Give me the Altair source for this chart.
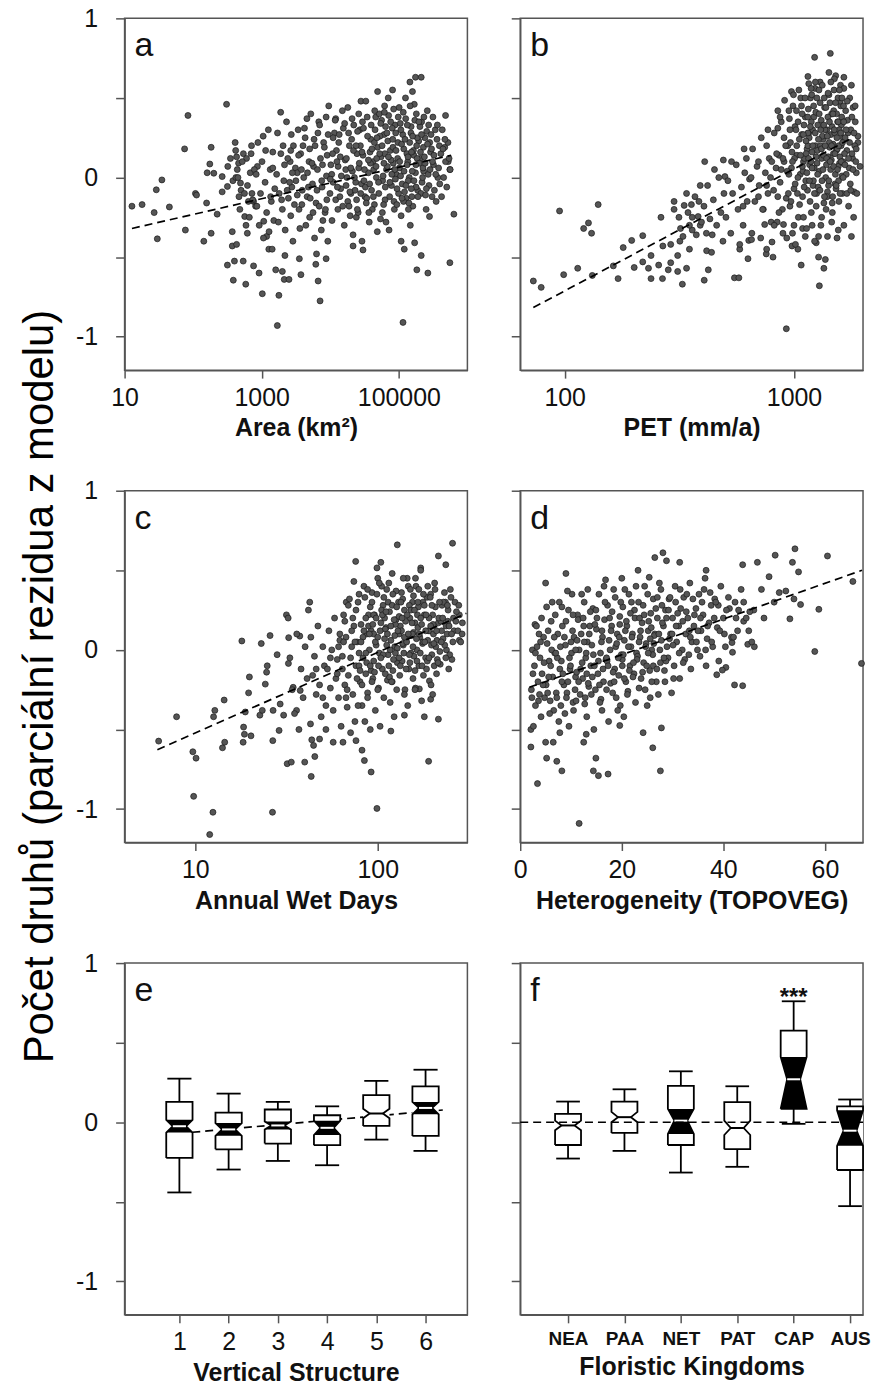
import altair as alt
import pandas as pd

FONT = "Liberation Sans"
W, H = 344, 353
Y_DOMAIN = [-1.21, 1.0]
Y_TICKS = [-1, -0.5, 0, 0.5, 1]
Y_TITLE = "Počet druhů (parciální rezidua z modelu)"

# ---------------- panel a: Area (km²) ----------------
area_pts = [
 (12.8,-0.18),(18,-0.17),(27,-0.22),(29,-0.077),(35,-0.015),(30,-0.385),(45,-0.185),(75,0.18),(84,0.39),(77,-0.33),
 (108,-0.10),(112,-0.11),(143,-0.40),(157,-0.16),(160,0.03),(183,0.19),(175,0.085),(183,-0.35),(224,-0.23),(200,0.027),
 (265,0.006),(307,0.46),(265,-0.09),(316,-0.056),(320,0.07),(316,-0.55),(372,-0.34),(372,-0.43),(400,-0.525),(385,-0.645),
 (417,0.17),(430,0.13),(440,0.05),(466,-0.12),(490,-0.035),(537,-0.525),(565,-0.245),(585,-0.67),(617,-0.35),(710,0.2),
 (760,-0.15),(760,-0.555),(815,-0.18),(865,0.07),(915,-0.6),(1020,-0.73),(1050,0.26),(1070,-0.275),(1140,0.17),(1180,-0.37),
 (1270,-0.45),(1690,-0.93),(1780,-0.74),(1890,0.41),(1600,-0.58),(2000,-0.59),(2130,-0.64),(2180,-0.49),(2500,-0.64),(2650,0.17),
 (3540,-0.51),(3730,-0.61),(4560,0.37),(6650,-0.65),(7100,-0.775),(6150,-0.545),(6300,-0.48),(8700,-0.51),(8700,0.38),(12000,0.37),
 (18000,0.44),(28000,0.48),(21500,-0.43),(29000,-0.40),(30000,-0.455),(49000,0.54),(81000,0.55),(62000,0.45),(145000,0.6),(175000,0.63),
 (212000,0.63),(158000,0.54),(115000,-0.91),(108000,-0.40),(170000,-0.41),(183000,-0.58),(212000,-0.49),(265000,-0.60),(280000,-0.245),(480000,0.39),
 (467000,0.19),(525000,0.1),(555000,0.05),(635000,-0.23),(555000,-0.535),(314000,0.38),(120000,-0.45),
 (350,0.12),(380,-0.02),(420,0.0),(460,0.09),(500,-0.08),(540,0.15),(600,0.12),(640,-0.15),(680,0.03),(720,-0.1),
 (410,0.22),(700,0.15),(520,0.1),(780,0.05),(450,0.0),(620,-0.05),(560,-0.1),(740,-0.14),(480,-0.2),(660,-0.25),(590,-0.3),(430,-0.42),
 (1250,0.3),(880,0.22),(1450,0.16),(1010,0.1),(1330,0.05),(830,0.02),(1120,-0.03),(1550,-0.07),(960,-0.1),(1380,-0.15),(850,-0.18),
 (1180,-0.22),(1500,-0.27),(920,-0.3),(1280,-0.34),(1060,-0.38),(1420,-0.45),
 (2300,0.35),(1700,0.28),(2900,0.2),(1900,0.15),(2600,0.1),(3100,0.06),(1650,0.02),(2100,-0.02),(2750,-0.06),(1800,-0.1),(2450,-0.13),
 (3000,-0.17),(2000,-0.2),(2650,-0.24),(1750,-0.28),(2200,-0.33),(2850,-0.4),
 (5200,0.4),(3400,0.3),(4300,0.25),(6000,0.2),(3700,0.15),(4900,0.1),(5700,0.07),(3300,0.03),(4100,0.0),(5500,-0.04),(3900,-0.08),
 (4600,-0.12),(6200,-0.16),(3500,-0.2),(5000,-0.25),(4400,-0.3),(5900,-0.38),
 (9500,0.45),(6800,0.35),(11500,0.28),(8000,0.22),(12300,0.17),(7200,0.12),(10200,0.08),(6500,0.05),(8800,0.01),(11000,-0.03),
 (7600,-0.06),(9900,-0.1),(12000,-0.14),(6900,-0.18),(8400,-0.22),(10600,-0.27),(7400,-0.33),(9200,-0.4),
 (15000,0.42),(22000,0.33),(13500,0.27),(19000,0.2),(24500,0.15),(16500,0.11),(13000,0.07),(21000,0.04),(17500,0.0),(23500,-0.03),
 (14200,-0.07),(20000,-0.1),(18000,-0.15),(12900,-0.2),(24000,-0.25),(16000,-0.3),(21500,-0.36),
 (33000,0.48),(46000,0.38),(27000,0.3),(39000,0.24),(49000,0.19),(30000,0.14),(42000,0.1),(26000,0.06),(36000,0.03),(47000,0.0),
 (28500,-0.04),(40000,-0.08),(32000,-0.12),(44000,-0.17),(25500,-0.22),(37000,-0.28),(48500,-0.34),
 (70000,0.5),(52000,0.4),(88000,0.33),(61000,0.27),(97000,0.22),(75000,0.17),(55000,0.13),(83000,0.09),(66000,0.05),(92000,0.02),
 (58000,-0.02),(78000,-0.05),(99000,-0.1),(63000,-0.14),(86000,-0.2),(54000,-0.26),(72000,-0.33),
 (125000,0.5),(180000,0.4),(105000,0.34),(150000,0.28),(195000,0.23),(118000,0.18),(165000,0.14),(135000,0.1),(102000,0.06),
 (175000,0.03),(142000,0.0),(112000,-0.04),(188000,-0.08),(128000,-0.13),(160000,-0.18),(108000,-0.24),(147000,-0.3),
 (260000,0.42),(215000,0.35),(340000,0.3),(240000,0.25),(390000,0.2),(290000,0.16),(205000,0.12),(320000,0.08),(230000,0.04),
 (370000,0.0),(275000,-0.05),(210000,-0.1),(350000,-0.15),(250000,-0.2),
 (430000,0.3),(520000,0.22),(410000,0.15),(480000,0.1),(560000,0.05),(450000,0.0),(500000,-0.06),(420000,-0.12),
 (8200,0.19),(10500,0.02),(14000,0.13),(17000,-0.05),(20500,0.24),(26500,0.09),(31000,-0.02),(38000,0.16),(43000,0.05),(57000,0.2),
 (68000,0.07),(80000,0.31),(94000,-0.07),(110000,0.21),(132000,0.08),(155000,-0.12),(185000,0.12),(225000,0.06),(300000,0.18),
 (5600,-0.22),(3800,0.05),(2400,0.12),(1350,-0.12),(7800,-0.27),(19500,-0.24),(34000,-0.13),(60000,-0.17),(138000,-0.2),(245000,-0.11),
 (5000,0.18),(6600,0.28),(7500,-0.02),(9000,0.14),(11000,0.25),(13800,-0.12),(15500,0.31),(16800,0.05),(18800,-0.18),(21800,0.17),
 (23000,-0.08),(25000,0.29),(27500,0.2),(29500,0.35),(32500,-0.06),(35000,0.26),(38500,0.09),(41000,-0.2),(45000,0.3),(47500,0.12),
 (51000,-0.1),(53000,0.26),(56000,0.36),(59000,0.01),(62500,0.15),(65000,-0.28),(69000,0.23),(71000,0.39),(74000,-0.03),(77000,0.11),
 (82000,0.19),(85000,-0.15),(90000,0.28),(96000,0.12),(101000,0.44),(106000,0.01),(114000,0.27),(121000,-0.09),(126000,0.37),(131000,0.15),
 (137000,-0.02),(144000,0.22),(151000,0.32),(157000,0.04),(163000,0.17),(168000,0.46),(178000,-0.06),(186000,0.25),(198000,0.09),(203000,0.32),
 (218000,-0.03),(228000,0.19),(236000,0.13),(255000,0.29),(268000,0.02),(282000,0.22),(310000,0.1),(330000,-0.08),(360000,0.24),(380000,0.06),
 (3300,-0.11),(4000,0.2),(4800,-0.06),(5400,0.09),(2800,0.03),(3600,-0.32),(2150,0.08),(1450,0.06),(1950,-0.14),(2550,-0.03),
 (8900,-0.14),(12500,0.1),(19900,0.06),(24200,-0.14),(36500,-0.22),(44000,0.22),(64000,0.32),(87000,0.05),(117000,-0.15),(152000,-0.07),
]
area_core = [
 (2050,0.2),(2350,-0.08),(2700,0.27),(3150,-0.02),(3450,0.14),(3850,-0.17),(4200,0.31),(4650,0.03),(5100,-0.13),(5800,0.24),
 (6400,-0.08),(7000,0.33),(7700,0.08),(8500,-0.2),(9300,0.27),(10000,-0.01),(10800,0.15),(11800,0.36),(12700,-0.06),(13300,0.22),
 (14500,0.01),(15200,-0.18),(16200,0.34),(17200,0.12),(18500,0.28),(19300,-0.09),(20800,0.37),(22500,0.0),(23800,0.2),(24800,-0.2),
 (26000,0.4),(27800,-0.1),(29000,0.16),(30500,0.31),(31500,0.05),(33500,-0.16),(34500,0.38),(36000,0.11),(37500,-0.04),(39500,0.33),
 (40500,0.18),(42500,-0.12),(44500,0.42),(46500,0.07),(48000,0.25),(50500,-0.03),(52500,0.15),(54500,0.34),(57500,-0.22),(60500,0.09),
 (61500,0.41),(63500,-0.06),(67000,0.28),(70500,0.13),(73500,-0.12),(76000,0.35),(79000,0.02),(81500,0.24),(84000,0.43),(89000,-0.01),
 (91000,0.17),(93500,-0.17),(98000,0.38),(103000,0.1),(107000,0.3),(111000,-0.13),(116000,0.41),(119000,0.04),(123000,0.24),(127000,-0.05),
 (133000,0.33),(136000,0.13),(140000,-0.16),(146000,0.45),(153000,0.16),(159000,0.26),(166000,-0.02),(171000,0.36),(177000,0.08),(182000,0.2),
 (190000,-0.12),(196000,0.35),(207000,0.16),(214000,0.27),(222000,0.0),(232000,0.38),(242000,0.09),(252000,-0.07),(262000,0.21),(272000,0.33),
 (285000,0.05),(295000,0.27),(305000,-0.12),(325000,0.14),(345000,0.02),(365000,0.33),(395000,-0.04),(440000,0.18),(470000,0.24),(540000,0.12),
]
area_trend_x = [12.8, 580000]
area_trend_y = [-0.32, 0.14]

# ---------------- panel b: PET (mm/a) ----------------
pet_pts = [
 (73,-0.65),(79,-0.69),(95,-0.21),(99,-0.61),(114,-0.57),(121,-0.32),(127,-0.285),(131,-0.35),(140,-0.17),(132,-0.615),
 (163,-0.555),(171,-0.635),(180,-0.44),(196,-0.395),(201,-0.565),(219,-0.365),(219,-0.53),(232,-0.57),(238,-0.635),(238,-0.49),
 (257,-0.55),(263,-0.25),(267,-0.635),(268,-0.43),(283,-0.58),(290,-0.535),(311,-0.59),(311,-0.49),(318,-0.4),(326,-0.67),
 (328,-0.37),(340,-0.57),(350,-0.45),(332,-0.175),(357,-0.17),(360,-0.33),(382,-0.245),(406,-0.645),(408,0.1),(416,-0.46),
 (423,-0.58),(437,-0.47),(440,-0.36),(492,0.11),(534,0.1),(500,0.006),(550,-0.63),(575,-0.63),(580,-0.45),(606,0.18),
 (630,-0.51),(635,-0.395),(653,-0.39),(716,-0.38),(745,-0.295),(757,-0.48),(802,-0.405),(770,0.3),(850,0.31),(895,-0.35),
 (900,-0.295),(926,-0.95),(910,0.485),(975,0.54),(950,0.42),(980,-0.43),(985,-0.35),(1040,-0.45),(1090,-0.32),(1120,-0.37),
 (1150,0.635),(1160,0.59),(1230,0.755),(1235,0.56),(1250,-0.41),(1280,-0.37),(1290,-0.68),(1350,-0.57),(1370,-0.515),(1400,-0.37),
 (1440,0.78),(1420,0.66),(1520,0.64),(1650,0.63),(1780,0.58),(1780,-0.37),(1830,-0.09),(1900,0.26),(1870,0.03),
 (300,-0.15),(315,-0.25),(345,-0.22),(370,-0.12),(390,-0.3),
 (340,-0.1),(385,-0.15),(300,-0.2),(360,-0.25),(395,-0.28),(320,-0.32),(375,-0.36),(290,-0.42),(390,-0.05),(350,-0.3),
 (470,0.0),(420,-0.05),(495,-0.1),(445,-0.14),(405,-0.18),(480,-0.22),(430,-0.26),(460,-0.3),(415,-0.35),(490,-0.4),(450,0.05),
 (560,0.08),(610,0.03),(515,-0.02),(590,-0.06),(540,-0.1),(625,-0.15),(570,-0.2),(505,-0.25),(600,-0.3),(530,-0.35),(580,-0.42),(620,0.12),
 (720,0.25),(660,0.18),(780,0.12),(690,0.07),(750,0.03),(640,-0.01),(705,-0.05),(770,-0.1),(675,-0.15),(735,-0.2),(795,-0.28),(655,-0.35),(760,-0.45),
 (880,0.35),(820,0.28),(940,0.2),(860,0.14),(905,0.1),(835,0.06),(950,0.02),(870,-0.03),(815,-0.08),(925,-0.13),(890,-0.2),(845,-0.28),(930,-0.38),(810,-0.5),
 (1050,0.55),(990,0.45),(1120,0.38),(1010,0.32),(1080,0.27),(965,0.22),(1140,0.18),(1030,0.14),(1100,0.1),(975,0.06),(1065,0.02),
 (1125,-0.02),(1000,-0.07),(1090,-0.12),(960,-0.18),(1045,-0.25),(1135,-0.32),(1015,-0.42),(1075,-0.55),
 (1300,0.6),(1180,0.5),(1360,0.44),(1220,0.38),(1270,0.33),(1160,0.28),(1340,0.24),(1240,0.2),(1200,0.16),(1320,0.12),(1170,0.08),
 (1290,0.04),(1375,0.0),(1210,-0.05),(1255,-0.1),(1350,-0.16),(1190,-0.22),(1310,-0.3),(1230,-0.4),(1280,-0.5),
 (1500,0.62),(1420,0.52),(1600,0.45),(1460,0.4),(1550,0.35),(1390,0.3),(1640,0.25),(1480,0.21),(1530,0.17),(1410,0.13),(1580,0.09),
 (1445,0.05),(1620,0.01),(1510,-0.04),(1400,-0.09),(1570,-0.15),(1470,-0.22),(1650,-0.3),(1540,-0.38),
 (1750,0.5),(1680,0.42),(1850,0.35),(1720,0.28),(1900,0.22),(1700,0.17),(1800,0.12),(1940,0.07),(1690,0.02),(1760,-0.04),
 (1880,-0.1),(1730,-0.18),(1820,-0.25),
 (1020,0.3),(1110,0.12),(1190,0.35),(1260,0.09),(1330,0.26),(1430,0.19),(1490,0.42),(1560,0.07),(1610,0.33),(1040,0.0),
 (1150,0.2),(1215,-0.02),(1395,-0.12),(1525,-0.07),(1660,0.15),(980,0.16),(1085,0.4),(1300,0.47),(1450,0.27),(1590,0.48),
 (1005,0.12),(1025,0.42),(1035,-0.1),(1055,0.24),(1070,0.5),(1095,0.04),(1105,0.33),(1130,0.15),(1145,-0.08),(1155,0.43),
 (1165,0.25),(1175,-0.15),(1185,0.1),(1195,0.52),(1205,0.3),(1225,0.06),(1245,0.41),(1265,0.17),(1275,-0.06),(1285,0.55),
 (1305,0.2),(1315,0.36),(1325,-0.02),(1345,0.14),(1355,0.5),(1365,0.3),(1385,0.08),(1405,0.38),(1415,-0.05),(1425,0.22),
 (1435,0.47),(1455,0.11),(1465,0.32),(1475,-0.12),(1485,0.15),(1495,0.55),(1505,0.28),(1515,0.02),(1535,0.4),(1545,0.18),
 (1555,0.5),(1565,-0.02),(1575,0.3),(1585,0.13),(1595,0.58),(1605,0.2),(1615,0.38),(1625,-0.1),(1635,0.1),(1645,0.45),
 (1670,0.25),(1710,0.36),(1740,0.06),(1770,0.3),(1790,0.15),(1810,0.44),(1840,0.2),(1860,0.1),(1700,-0.1),(1650,0.56),
 (880,0.05),(920,0.2),(945,-0.1),(960,0.3),(850,-0.12),(800,0.1),(760,-0.05),(700,-0.12),(650,0.0),(600,-0.18),
 (1000,-0.3),(1100,-0.25),(1200,-0.3),(1320,-0.25),(1460,-0.28),(1560,-0.33),(1250,-0.18),(1380,-0.2),(1150,0.28),(1240,0.6),
]
pet_core = [
 (905,0.25),(935,0.04),(955,0.37),(970,-0.15),(985,0.1),(995,0.52),(1012,-0.04),(1028,0.2),(1042,0.35),(1058,-0.17),
 (1068,0.14),(1078,0.45),(1088,0.07),(1098,0.27),(1108,-0.06),(1118,0.5),(1128,0.23),(1138,0.03),(1148,0.38),(1158,0.12),
 (1168,-0.02),(1178,0.32),(1188,0.56),(1198,0.06),(1208,0.2),(1218,0.45),(1228,-0.1),(1238,0.28),(1248,0.13),(1258,0.5),
 (1268,0.02),(1278,0.24),(1288,0.4),(1298,-0.08),(1308,0.3),(1318,0.18),(1328,0.58),(1338,0.05),(1348,0.33),(1358,-0.12),
 (1368,0.2),(1378,0.44),(1388,0.12),(1398,0.26),(1408,0.53),(1418,-0.02),(1428,0.35),(1438,0.1),(1448,0.6),(1458,0.2),
 (1468,-0.16),(1478,0.4),(1488,0.07),(1498,0.3),(1508,0.15),(1518,0.47),(1528,-0.05),(1538,0.25),(1548,0.05),(1558,0.35),
 (1568,0.2),(1578,0.55),(1588,-0.1),(1598,0.28),(1608,0.1),(1618,0.5),(1628,0.22),(1638,0.0),(1648,0.35),(1668,0.08),
 (1688,0.3),(1708,0.48),(1728,0.12),(1748,0.22),(1768,-0.08),(1788,0.38),(1808,0.05),(1828,0.28),(1848,0.45),(1868,0.18),
 (700,0.1),(730,-0.2),(760,0.2),(790,0.0),(820,-0.3),(840,0.15),(860,-0.22),(870,0.38),(895,0.12),(850,0.42),
]
pet_trend_x = [73, 1800]
pet_trend_y = [-0.817, 0.25]

# ---------------- panel c: Annual Wet Days ----------------
wet_pts = [
 (6.3,-0.573),(7.9,-0.42),(9.7,-0.64),(10.1,-0.68),(9.8,-0.92),(12.5,-1.02),(12.0,-1.16),(12.6,-0.42),(12.8,-0.38),(14.1,-0.615),
 (14.5,-0.58),(14.4,-0.315),(18,0.056),(18.4,-0.485),(18.3,-0.58),(18.6,-0.53),(19.6,-0.27),(19.8,-0.17),(18.8,-0.39),(20.2,-0.54),
 (23,0.04),(25.7,0.09),(26.5,-1.02),(26.6,-0.57),(24.6,-0.14),(24.8,-0.1),(24.2,-0.215),(22.6,-0.41),(23.3,-0.38),(26.7,-0.38),
 (28.1,-0.03),(28.8,-0.506),(29.2,-0.34),(30.5,-0.41),(31.6,0.22),(32.3,0.2),(31.9,-0.715),(33.6,-0.705),(32.5,0.077),(32.4,-0.085),
 (34.4,-0.235),(35.9,-0.38),(37.4,0.087),(37.6,-0.255),(39.8,-0.705),(41.7,0.25),(42.4,0.3),(43.2,-0.795),(45.2,-0.67),(43.5,-0.565),
 (42.8,-0.465),(48,-0.56),(52,-0.5),(57,-0.58),(64.5,-0.58),(67.2,0.3),(75.7,0.556),(74,0.43),(76,-0.57),(82,-0.63),
 (84.5,-0.695),(92,-0.767),(99,-0.996),(99,0.515),(104,0.55),(128,0.66),(172,0.515),(190,-0.7),(215,0.59),(236,0.535),
 (257,0.67),(215,-0.435),(291,0.17),(280,0.22),(118,-0.51),(140,-0.41),(169,-0.245),(180,-0.42),(195,-0.31),(192,-0.195),
 (36,0.1),(40,0.02),(33,-0.05),(38,-0.12),(41,-0.18),(34,-0.25),(39,-0.3),(35,-0.4),(37,-0.5),
 (47,0.15),(43,0.08),(50,0.02),(45,-0.04),(51,-0.1),(44,-0.16),(48,-0.22),(46,-0.28),(52,-0.35),(49,-0.42),(44.5,-0.6),
 (58,0.2),(54,0.12),(62,0.06),(56,0.0),(60,-0.06),(53,-0.12),(59,-0.18),(55,-0.24),(61,-0.3),(57,-0.38),(63,-0.48),
 (70,0.32),(65,0.22),(74,0.15),(67,0.08),(72,0.02),(64,-0.04),(76,-0.1),(69,-0.16),(66,-0.22),(73,-0.28),(68,-0.36),(75,-0.45),(71,-0.52),
 (84,0.4),(78,0.3),(89,0.22),(81,0.16),(87,0.1),(77,0.05),(90,0.0),(83,-0.05),(79,-0.1),(86,-0.15),(80,-0.2),(88,-0.27),(82,-0.35),(85,-0.45),(91,-0.5),
 (100,0.45),(93,0.36),(107,0.28),(96,0.22),(104,0.17),(92,0.12),(109,0.07),(98,0.03),(102,-0.02),(95,-0.07),(106,-0.12),(94,-0.18),
 (101,-0.24),(108,-0.3),(97,-0.38),(103,-0.48),
 (120,0.48),(112,0.38),(130,0.3),(116,0.24),(126,0.19),(111,0.14),(131,0.1),(118,0.06),(124,0.02),(114,-0.03),(128,-0.08),(121,-0.13),
 (113,-0.19),(127,-0.25),(117,-0.33),(123,-0.42),
 (145,0.45),(135,0.36),(155,0.3),(140,0.25),(150,0.2),(133,0.15),(157,0.11),(143,0.07),(138,0.03),(152,-0.02),(136,-0.07),(148,-0.12),
 (156,-0.18),(141,-0.25),(146,-0.35),
 (172,0.5),(162,0.4),(186,0.33),(167,0.27),(180,0.22),(160,0.17),(189,0.12),(170,0.08),(176,0.04),(164,0.0),(183,-0.05),(168,-0.1),
 (178,-0.16),(161,-0.24),(174,-0.32),
 (205,0.42),(195,0.35),(225,0.28),(200,0.22),(215,0.17),(192,0.12),(228,0.07),(208,0.02),(198,-0.03),(220,-0.09),(210,-0.15),(196,-0.22),
 (250,0.38),(235,0.3),(270,0.24),(242,0.18),(262,0.12),(280,0.06),(238,0.0),(255,-0.06),(245,-0.12),
 (86,0.2),(95,0.1),(105,0.25),(115,-0.1),(125,0.16),(137,0.04),(149,0.28),(158,-0.04),(166,0.14),(177,0.3),(188,0.06),
 (202,0.1),(212,-0.06),(222,0.18),(79,-0.02),(92,-0.13),(110,0.13),(132,-0.16),(153,0.09),(185,-0.12),(240,0.1),(260,0.2),
 (72,0.12),(76,0.25),(80,-0.13),(83,0.08),(85,0.33),(87,-0.08),(89,0.15),(91,0.27),(93,-0.2),(95,0.22),
 (97,0.05),(99,0.35),(101,-0.1),(103,0.12),(105,0.4),(107,-0.03),(109,0.2),(112,0.03),(114,0.3),(116,-0.17),
 (118,0.15),(120,0.28),(122,-0.06),(124,0.09),(126,0.37),(128,0.01),(131,0.21),(133,-0.1),(135,0.12),(137,0.32),
 (139,-0.02),(142,0.18),(144,0.05),(147,0.4),(150,-0.08),(152,0.25),(155,0.1),(157,0.34),(160,-0.13),(163,0.07),
 (165,0.22),(168,0.38),(171,-0.02),(174,0.16),(177,0.05),(180,0.28),(183,0.12),(187,-0.07),(191,0.2),(194,0.33),
 (197,0.03),(201,0.16),(204,-0.1),(207,0.27),(211,0.06),(216,0.2),(219,-0.01),(224,0.12),(229,0.3),(233,0.03),
 (237,0.15),(243,0.25),(248,-0.03),(254,0.1),(265,0.3),(275,0.12),(285,0.05),(60,-0.15),(65,0.05),(68,-0.25),
 (55,-0.05),(62,0.1),(50,-0.3),(46,-0.12),(88,-0.3),(100,-0.25),(120,-0.2),(140,-0.28),(160,-0.25),(200,-0.28),
]
wet_core = [
 (61,0.02),(64,-0.12),(66,0.18),(69,0.28),(71,-0.05),(73,0.2),(75,0.05),(77,-0.18),(79,0.35),(81,0.05),
 (82,-0.22),(84,0.12),(86,-0.02),(88,0.38),(90,0.1),(91,-0.1),(93,0.3),(94,0.16),(96,-0.14),(98,0.2),
 (100,0.08),(102,0.42),(104,-0.05),(106,0.22),(108,0.33),(110,-0.15),(111,0.24),(113,0.1),(115,0.42),(117,0.0),
 (119,-0.2),(121,0.35),(123,0.19),(125,-0.02),(127,0.27),(129,0.12),(131,-0.05),(134,0.3),(136,0.2),(138,0.45),
 (140,0.08),(143,-0.12),(145,0.22),(147,0.1),(149,-0.03),(151,0.38),(154,0.17),(156,0.02),(159,0.25),(161,0.45),
 (164,-0.07),(166,0.3),(169,0.1),(172,0.2),(175,-0.1),(178,0.35),(181,0.05),(184,0.22),(188,0.4),(191,-0.05),
 (195,0.15),(198,0.28),(203,0.04),(206,0.38),(210,0.12),(214,-0.08),(218,0.3),(223,0.05),(227,0.2),(232,0.36),
 (236,-0.05),(241,0.28),(246,0.15),(252,0.33),(258,0.05),(268,0.18),(278,0.28),(290,0.1),(67,-0.3),(78,-0.35),
]
wet_trend_x = [6.2, 306]
wet_trend_y = [-0.627, 0.23]

# ---------------- panel d: Heterogeneity (TOPOVEG) ----------------
het_pts = [
 (67.2,-0.085),(60.5,0.59),(54.1,0.635),(50.2,0.595),(46.7,0.55),(43.8,0.535),(49,0.46),(53.6,0.55),(54.8,0.49),(55.2,0.285),
 (65.5,0.43),(58.8,0.255),(58,-0.01),(53.1,0.195),(52.3,0.37),(51,0.36),(53.9,0.32),(48,0.2),(46.1,0.02),(44.8,0.035),
 (42.2,-0.22),(43.8,-0.225),(41.8,-0.015),(40.5,-0.11),(38.7,-0.156),(39.8,-0.127),(39.1,-0.07),(41.7,0.046),(28.1,0.61),(28.8,0.56),
 (26.5,0.58),(25.4,0.456),(31.4,0.55),(36.6,0.5),(5,0.42),(9,0.48),(8.2,0.27),(2.9,0.16),(3.4,-0.84),(11.6,-1.09),
 (2.1,-0.61),(2.1,-0.5),(5,-0.58),(5.2,-0.68),(7.2,-0.7),(8.2,-0.76),(6.5,-0.58),(14.4,-0.76),(15.4,-0.79),(17.3,-0.78),
 (14.9,-0.68),(26.1,-0.615),(27.6,-0.76),(27.8,-0.49),(24.2,-0.52),(19.6,-0.475),(12.5,-0.58),(13,-0.53),(7.8,-0.52),(3.6,-0.32),(2.3,-0.3),
 (44,0.3),(46,0.25),(47.5,0.38),(50,0.3),(45,0.12),
 (3.2,0.15),(4.6,0.08),(2.4,0.0),(3.9,-0.05),(2.8,-0.1),(4.3,-0.15),(3.5,-0.2),(2.2,-0.25),(4.8,-0.3),(3.0,-0.35),(4.1,-0.42),(2.6,-0.48),
 (6.1,0.18),(7.4,0.1),(5.3,0.04),(6.8,-0.02),(5.7,-0.07),(7.8,-0.12),(6.4,-0.17),(5.1,-0.22),(7.1,-0.27),(5.9,-0.32),(6.6,-0.38),(7.6,-0.45),
 (9.5,0.25),(8.3,0.15),(10.6,0.08),(8.9,0.03),(10.1,-0.02),(8.1,-0.07),(9.8,-0.12),(10.9,-0.17),(8.6,-0.22),(9.2,-0.27),(10.4,-0.33),(8.8,-0.4),(9.6,-0.48),
 (12.6,0.3),(11.3,0.22),(13.7,0.15),(12.0,0.1),(13.2,0.05),(11.6,0.0),(12.9,-0.05),(13.9,-0.1),(11.1,-0.14),(12.3,-0.18),(13.5,-0.23),
 (11.8,-0.28),(12.7,-0.34),(13.1,-0.42),
 (15.5,0.35),(14.3,0.26),(16.6,0.19),(15.0,0.13),(16.2,0.08),(14.1,0.03),(15.8,-0.02),(16.9,-0.06),(14.6,-0.1),(15.3,-0.15),(16.4,-0.2),
 (14.8,-0.25),(15.9,-0.31),(16.1,-0.38),(14.5,-0.5),
 (18.4,0.38),(17.2,0.28),(19.6,0.21),(18.0,0.15),(19.1,0.1),(17.5,0.06),(18.8,0.02),(19.9,-0.03),(17.1,-0.07),(18.6,-0.12),(19.4,-0.16),
 (17.8,-0.21),(18.2,-0.27),(19.7,-0.35),(17.4,-0.45),
 (21.4,0.35),(20.2,0.27),(22.6,0.2),(21.0,0.15),(22.1,0.1),(20.5,0.06),(21.8,0.02),(22.9,-0.02),(20.1,-0.06),(21.6,-0.1),(22.4,-0.15),
 (20.8,-0.2),(21.2,-0.26),(22.7,-0.33),(20.4,-0.42),
 (24.5,0.4),(23.3,0.3),(25.7,0.23),(24.0,0.17),(25.2,0.12),(23.6,0.08),(24.8,0.04),(25.9,0.0),(23.1,-0.04),(24.3,-0.08),(25.5,-0.13),
 (23.8,-0.18),(24.6,-0.25),(25.0,-0.35),
 (27.4,0.42),(26.2,0.32),(28.6,0.25),(27.0,0.2),(28.2,0.15),(26.5,0.1),(27.8,0.06),(28.9,0.02),(26.1,-0.03),(27.6,-0.08),(28.4,-0.13),
 (26.8,-0.2),(27.2,-0.28),
 (30.5,0.4),(29.3,0.32),(31.6,0.26),(30.0,0.2),(31.2,0.15),(29.6,0.1),(30.8,0.05),(31.9,0.0),(29.1,-0.05),(30.3,-0.1),(31.4,-0.18),(29.8,-0.27),
 (33.4,0.42),(32.2,0.33),(34.6,0.26),(33.0,0.2),(34.2,0.15),(32.6,0.1),(33.8,0.05),(34.9,0.0),(32.4,-0.06),(33.6,-0.12),
 (36.4,0.45),(35.2,0.35),(37.6,0.28),(36.0,0.22),(37.2,0.17),(35.6,0.12),(36.8,0.07),(37.9,0.02),(35.4,-0.04),(36.6,-0.1),
 (39.5,0.4),(38.3,0.32),(41.2,0.26),(40.0,0.2),(38.8,0.14),(41.6,0.08),(40.4,0.02),
 (43.5,0.38),(42.3,0.3),(45.2,0.24),(44.0,0.18),(42.8,0.12),(45.6,0.05),
 (10,0.05),(12.2,-0.08),(14.7,0.16),(16.3,-0.12),(18.1,0.24),(19.3,-0.05),(20.7,0.12),(22.2,-0.17),(23.5,0.2),(24.9,-0.1),
 (26.3,0.04),(27.9,0.28),(29.4,0.07),(31,0.23),(9.1,-0.3),(11.4,0.19),(13.4,-0.21),(17.7,0.0),(21.9,0.3),(25.8,0.14),
 (4,0.05),(4.5,-0.22),(5.5,0.12),(6,-0.1),(6.7,0.08),(7.2,-0.3),(7.9,0.02),(8.4,-0.15),(9,0.18),(9.7,-0.05),
 (10.3,0.12),(10.8,-0.25),(11.2,0.06),(11.9,-0.12),(12.4,0.2),(13,-0.02),(13.6,0.1),(14.2,-0.17),(14.9,0.25),(15.4,-0.07),
 (16,0.05),(16.7,0.3),(17.3,-0.1),(17.9,0.12),(18.5,-0.2),(19,0.04),(19.8,0.3),(20.3,-0.03),(20.9,0.18),(21.5,-0.13),
 (22,0.08),(22.5,0.25),(23,-0.06),(23.7,0.12),(24.2,0.28),(24.7,0.02),(25.3,0.18),(25.9,-0.2),(26.4,0.09),(27,0.33),
 (27.5,0.0),(28,0.17),(28.7,-0.07),(29.2,0.25),(29.9,0.1),(30.6,0.3),(31.3,-0.02),(32,0.18),(32.8,0.35),(33.5,0.08),
 (34.3,0.22),(35,0.12),(35.8,0.3),(36.5,0.0),(37.4,0.36),(38.2,0.2),(39,0.28),(40.2,0.1),(41,0.33),(42.5,0.2),
 (3,-0.02),(3.7,0.1),(2.5,-0.15),(5.8,-0.4),(8,-0.35),(10.5,-0.38),(12.8,-0.3),(15.7,-0.33),(18.9,-0.3),(21.1,-0.28),
 (6.3,0.3),(10.2,0.35),(13.3,0.38),(16.8,0.44),(20,0.45),(23.2,0.5),(19.2,-0.38),(25.6,-0.3),(28.5,-0.2),(33.2,-0.03),
]
het_core = [
 (3.3,0.02),(3.8,-0.28),(4.2,0.2),(4.7,-0.08),(5.2,0.27),(5.6,-0.17),(6.2,0.0),(6.9,0.22),(7.3,-0.05),(7.7,0.3),
 (8.2,-0.2),(8.7,0.08),(9.3,0.37),(9.9,-0.1),(10.4,0.22),(10.9,0.0),(11.5,-0.2),(12.1,0.35),(12.6,0.05),(13.1,-0.15),
 (13.8,0.24),(14.4,-0.03),(15.1,0.2),(15.6,-0.22),(16.1,0.12),(16.5,0.4),(17,-0.05),(17.6,0.2),(18.3,-0.14),(18.7,0.33),
 (19.5,0.08),(20.1,-0.1),(20.6,0.38),(21.3,0.02),(21.7,0.23),(22.3,-0.08),(22.8,0.4),(23.4,0.05),(24.1,-0.14),(24.4,0.22),
 (25.1,0.35),(25.6,0.07),(26.2,-0.1),(26.7,0.26),(27.3,0.1),(27.7,0.38),(28.3,-0.05),(28.8,0.2),(29.5,0.33),(30.1,0.03),
 (30.7,0.15),(31.5,0.38),(32.1,-0.08),(32.7,0.24),(33.3,0.12),(34,0.32),(34.7,0.05),(35.5,0.2),(36.2,0.38),(36.9,0.15),
 (37.7,0.05),(38.5,0.3),(39.3,0.12),(40.6,0.25),(42,0.08),(43,0.25),(44.5,0.2),(9.4,-0.2),(11,-0.32),(14,-0.28),
 (17,-0.25),(20.5,-0.18),(23.4,-0.24),(26.9,-0.12),(30.2,-0.18),(5.4,-0.27),(7,-0.02),(12.5,0.15),(19.6,0.16),(25.2,-0.02),
]
het_trend_x = [1.8, 67.3]
het_trend_y = [-0.235, 0.5]

# ---------------- panel e: Vertical Structure (notched boxes) ----------------
vs_pos = [1, 2, 3, 4, 5, 6]
vs_lo = [-0.441, -0.297, -0.243, -0.27, -0.109, -0.18]
vs_q1 = [-0.224, -0.17, -0.134, -0.144, -0.023, -0.086]
vs_nlo = [-0.065, -0.085, -0.045, -0.08, 0.025, 0.05]
vs_med = [-0.025, -0.045, -0.02, -0.035, 0.055, 0.09]
vs_nhi = [0.015, -0.005, 0.005, 0.01, 0.085, 0.128]
vs_q3 = [0.128, 0.06, 0.08, 0.044, 0.17, 0.226]
vs_hi = [0.274, 0.18, 0.128, 0.10, 0.26, 0.33]
vs_sig = [1, 1, 1, 1, 0, 1]
vs_trend_x = [1.0, 6.35]
vs_trend_y = [-0.07, 0.077]

# ---------------- panel f: Floristic Kingdoms ----------------
fk_names = ["NEA", "PAA", "NET", "PAT", "CAP", "AUS"]
fk_pos = [1, 2, 3, 4, 5, 6]
fk_lo = [-0.228, -0.18, -0.316, -0.28, -0.01, -0.527]
fk_q1 = [-0.143, -0.067, -0.143, -0.169, 0.084, -0.3]
fk_nlo = [-0.05, 0.0, -0.074, -0.08, 0.084, -0.148]
fk_med = [-0.02, 0.032, 0.01, -0.036, 0.27, -0.053]
fk_nhi = [0.01, 0.065, 0.084, 0.01, 0.41, 0.075]
fk_q3 = [0.053, 0.13, 0.228, 0.127, 0.576, 0.1]
fk_hi = [0.13, 0.207, 0.32, 0.226, 0.76, 0.143]
fk_sig = [0, 0, 1, 0, 1, 1]
fk_trend_x = [0.152, 6.23]
fk_trend_y = [0.0, 0.0]
fk_star_x = [5]
fk_star_y = [0.78]
fk_star_t = ["***"]

# ================= helpers =================
Y_LABEL_EXPR = "datum.value == 1 ? '1' : datum.value == 0 ? '0' : datum.value == -1 ? '-1' : ''"
yscale = alt.Scale(domain=Y_DOMAIN, nice=False, zero=False)


def y_axis(labels=True, title=None):
    kw = dict(values=Y_TICKS, tickSize=9, labelPadding=18, grid=False, labelFontSize=25)
    if labels:
        kw["labelExpr"] = Y_LABEL_EXPR
    else:
        kw["labels"] = False
    if title:
        kw.update(title=title, titleFontSize=42, titleFontWeight="normal", titleColor="#000",
                  titleX=-72, titleY=196, titleAngle=270, titleAlign="center",
                  titleBaseline="alphabetic", titleLimit=1200)
    else:
        kw["title"] = None
    return alt.Axis(**kw)


def x_axis(values, title, fmt="d", label_expr=None, lsize=25, lweight="normal"):
    kw = dict(values=values, title=title, tickSize=8, labelPadding=7, titlePadding=6,
              labelFlush=False, labelOverlap=False, grid=False, labelFontSize=lsize,
              labelFontWeight=lweight, titleFontSize=25, titleFontWeight="bold")
    if label_expr:
        kw["labelExpr"] = label_expr
    else:
        kw["format"] = fmt
    return alt.Axis(**kw)


def letter(ch):
    return alt.Chart(pd.DataFrame({"t": [ch]})).mark_text(
        align="left", baseline="alphabetic", fontSize=34, font=FONT, color="#111"
    ).encode(text="t:N", x=alt.value(10), y=alt.value(38))


def scatter_panel(pts, tx, ty, xscale, xaxis, yaxis, ch):
    df = pd.DataFrame(pts, columns=["x", "y"])
    tdf = pd.DataFrame({"x": tx, "y": ty})
    X = alt.X("x:Q", scale=xscale, axis=xaxis)
    Y = alt.Y("y:Q", scale=yscale, axis=yaxis)
    p = alt.Chart(df).mark_circle(size=36, color="#555555", stroke="#1a1a1a",
                                  strokeWidth=0.7, opacity=1).encode(x=X, y=Y)
    ln = alt.Chart(tdf).mark_line(color="black", strokeDash=[8, 5], strokeWidth=1.7).encode(x=X, y=Y)
    return alt.layer(p, ln, letter(ch)).properties(width=W, height=H)


def box_panel(pos, lo, q1, nlo, med, nhi, q3, hi, sig, hw, cw, xscale, xaxis, yaxis,
              tx, ty, trend_on_top, ch, stars=None):
    def X(f):
        return alt.X(f, type="quantitative", scale=xscale, axis=xaxis)

    def Y(f):
        return alt.Y(f, type="quantitative", scale=yscale, axis=yaxis)

    bx = pd.DataFrame({"pos": pos, "lo": lo, "q1": q1, "med": med, "q3": q3, "hi": hi})
    bx["xl"] = bx["pos"] - hw
    bx["xr"] = bx["pos"] + hw
    bx["cl"] = bx["pos"] - cw
    bx["cr"] = bx["pos"] + cw
    bx["ml"] = bx["pos"] - hw * 0.5
    bx["mr"] = bx["pos"] + hw * 0.5
    bx["mc"] = ["white" if s else "black" for s in sig]

    outline, glass = [], []
    for i in range(len(pos)):
        c = pos[i]
        pts = [(c - hw, q1[i]), (c - hw, nlo[i]), (c - hw / 2, med[i]), (c - hw, nhi[i]),
               (c - hw, q3[i]), (c + hw, q3[i]), (c + hw, nhi[i]), (c + hw / 2, med[i]),
               (c + hw, nlo[i]), (c + hw, q1[i]), (c - hw, q1[i])]
        for k, (xx, yy) in enumerate(pts):
            outline.append({"box": i, "ord": k, "x": xx, "y": yy})
        if sig[i]:
            xs = [c - hw, c - hw / 2, c + hw / 2, c + hw]
            top_lo = [nhi[i], med[i], med[i], nhi[i]]
            bot_hi = [nlo[i], med[i], med[i], nlo[i]]
            for xx, a in zip(xs, top_lo):
                glass.append({"part": f"{i}t", "x": xx, "ya": a, "yb": nhi[i]})
            for xx, b in zip(xs, bot_hi):
                glass.append({"part": f"{i}b", "x": xx, "ya": nlo[i], "yb": b})
    odf = pd.DataFrame(outline)
    gdf = pd.DataFrame(glass)
    tdf = pd.DataFrame({"x": tx, "y": ty})

    sw = 1.8
    trend = alt.Chart(tdf).mark_line(color="black", strokeDash=[8, 5], strokeWidth=1.7).encode(x=X("x"), y=Y("y"))
    w_lo = alt.Chart(bx).mark_rule(color="black", strokeWidth=sw).encode(x=X("pos"), y=Y("lo"), y2="q1")
    w_hi = alt.Chart(bx).mark_rule(color="black", strokeWidth=sw).encode(x=X("pos"), y=Y("q3"), y2="hi")
    c_lo = alt.Chart(bx).mark_rule(color="black", strokeWidth=sw).encode(x=X("cl"), x2="cr", y=Y("lo"))
    c_hi = alt.Chart(bx).mark_rule(color="black", strokeWidth=sw).encode(x=X("cl"), x2="cr", y=Y("hi"))
    fill = alt.Chart(bx).mark_rect(color="white", opacity=1).encode(x=X("xl"), x2="xr", y=Y("q1"), y2="q3")
    hg = alt.Chart(gdf).mark_area(color="black", opacity=1).encode(
        x=X("x"), y=Y("ya"), y2="yb", detail="part:N")
    edge = alt.Chart(odf).mark_line(color="black", strokeWidth=sw).encode(
        x=X("x"), y=Y("y"), detail="box:N", order="ord:Q")
    meds = alt.Chart(bx).mark_rule(strokeWidth=2).encode(
        x=X("ml"), x2="mr", y=Y("med"), color=alt.Color("mc:N", scale=None))
    layers = []
    if not trend_on_top:
        layers.append(trend)
    layers += [w_lo, w_hi, c_lo, c_hi, fill, hg, edge, meds]
    if trend_on_top:
        layers.append(trend)
    if stars is not None:
        sdf = pd.DataFrame({"x": stars[0], "y": stars[1], "t": stars[2]})
        layers.append(alt.Chart(sdf).mark_text(fontSize=24, fontWeight="bold", font=FONT,
                                               baseline="middle", color="#111").encode(
            x=X("x"), y=Y("y"), text="t:N"))
    layers.append(letter(ch))
    return alt.layer(*layers).properties(width=W, height=H)


# ================= panels =================
pa = scatter_panel(area_pts + area_core, area_trend_x, area_trend_y,
                   alt.Scale(type="log", domain=[10, 1000000], nice=False),
                   x_axis([10, 1000, 100000], "Area (km²)"), y_axis(True), "a")
pb = scatter_panel(pet_pts + pet_core, pet_trend_x, pet_trend_y,
                   alt.Scale(type="log", domain=[64, 2000], nice=False),
                   x_axis([100, 1000], "PET (mm/a)"), y_axis(False), "b")
pc = scatter_panel(wet_pts + wet_core, wet_trend_x, wet_trend_y,
                   alt.Scale(type="log", domain=[4.1, 310], nice=False),
                   x_axis([10, 100], "Annual Wet Days"), y_axis(True, Y_TITLE), "c")
pd_ = scatter_panel(het_pts + het_core, het_trend_x, het_trend_y,
                    alt.Scale(domain=[0, 67.5], nice=False, zero=False),
                    x_axis([0, 20, 40, 60], "Heterogeneity (TOPOVEG)"), y_axis(False), "d")

pe = box_panel(vs_pos, vs_lo, vs_q1, vs_nlo, vs_med, vs_nhi, vs_q3, vs_hi, vs_sig,
               0.267, 0.245, alt.Scale(domain=[-0.113, 6.85], nice=False, zero=False),
               x_axis(vs_pos, "Vertical Structure"), y_axis(True),
               vs_trend_x, vs_trend_y, False, "e")

fk_expr = " : ".join(f"datum.value == {p} ? '{n}'" for p, n in zip(fk_pos, fk_names)) + " : ''"
pf = box_panel(fk_pos, fk_lo, fk_q1, fk_nlo, fk_med, fk_nhi, fk_q3, fk_hi, fk_sig,
               0.23, 0.21, alt.Scale(domain=[0.152, 6.23], nice=False, zero=False),
               x_axis(fk_pos, "Floristic Kingdoms", label_expr=fk_expr, lsize=19, lweight="bold"),
               y_axis(False), fk_trend_x, fk_trend_y, True, "f",
               stars=(fk_star_x, fk_star_y, fk_star_t))

chart = alt.concat(pa, pb, pc, pd_, pe, pf, columns=2,
                   spacing={"row": 121, "column": 53}).properties(
    bounds="flush", padding={"left": 10, "top": -5, "right": 0, "bottom": 0}
).configure(font=FONT, background="white").configure_view(
    stroke="#555", strokeWidth=1.5
).configure_axis(
    domainColor="#555", domainWidth=1.5, tickColor="#555", tickWidth=1.5,
    labelColor="#111", titleColor="#111", labelFont=FONT, titleFont=FONT, grid=False
)

chart.save("out.html", embed_options={"renderer": "svg", "actions": False})
